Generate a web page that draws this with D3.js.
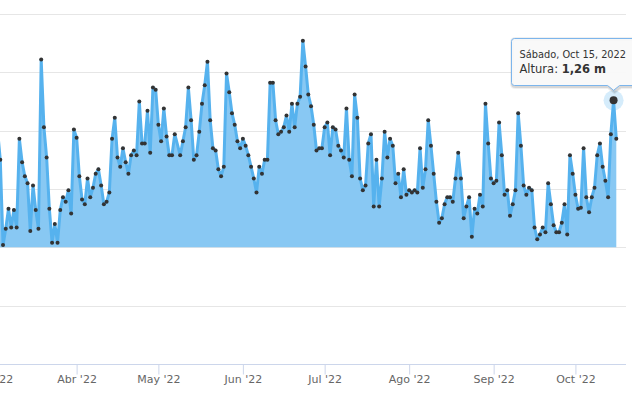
<!DOCTYPE html>
<html>
<head>
<meta charset="utf-8">
<script src="https://cdn.jsdelivr.net/npm/d3@7"></script>
<style>
  html, body { margin: 0; padding: 0; background: #fff; overflow: hidden; }
  svg { display: block; font-family: "DejaVu Sans", Verdana, sans-serif; }
</style>
</head>
<body>
<svg id="chart" width="632" height="395"></svg>
<script>
// ---------- data ----------
const seriesName = "Altura";
const startDate = "2022-03-03";           // first daily reading (left edge, partly off-screen)
// daily wave height (m); null = day without a reading
const heights = [
  1.00,
  0.75, 0.02, 0.16, 0.33, 0.17, 0.32, 0.17, 0.93, 0.73, 0.61, 0.55, 0.14, 0.53, 0.32, 0.16,
  1.61, 1.03, 0.77, 0.33, 0.04, 0.20, 0.04, 0.32, 0.43, 0.39, 0.49, 0.29, 1.01, 0.94, 0.61,
  0.41, 0.37, 0.59, 0.43, 0.51, 0.63, 0.67, 0.53, 0.37,
  0.39, 0.47, 0.93, 1.11, 0.77, 0.69, 0.85, 0.73, 0.63, 0.79, 0.83, 0.79, 1.25, 0.89, 0.89,
  1.17, 0.81, 1.37, 1.35, 1.05, 0.91, 1.19, 0.95, 0.79, 0.79, 0.97, null, 0.79, 0.91, 1.03,
  1.37, 1.09, 0.75, 0.79, 0.99, 1.23, 1.39, 1.59, 1.09,
  0.85, 0.83, 0.67, 0.61, 0.69, 1.49, 1.33, 1.15, 1.05, 0.91, 0.85, 0.93, 0.87, 0.79, 0.69,
  0.59, 0.47, 0.69, 0.63, 0.75, 0.75, 1.41, 1.41, 1.09, 0.97, 0.99, 1.03, 1.13, 0.99, 1.23,
  1.03, 1.23, 1.29, 1.77, 1.55, 1.31, 1.21, 1.05,
  0.83, 0.85, 0.85, 1.03, 1.07, 0.79, 1.03, 1.01, 0.87, 0.83, 0.77, 1.19, 0.75, 0.61, 1.31,
  1.11, 0.59, 0.49, 0.53, 0.89, 0.97, 0.35, 0.75, 0.35, 0.59, 0.99, 0.77, 0.93, 0.87, 0.55,
  0.63, 0.43, 0.67, 0.45, 0.49, 0.47, 0.49, 0.47,
  0.85, 0.51, 0.67, 1.09, 0.87, 0.63, 0.39, 0.21, 0.25, 0.37, 0.43, 0.43, 0.39, 0.59, 0.81,
  0.59, 0.25, 0.35, 0.43, 0.09, 0.33, 0.29, 0.45, 0.35, 1.23, 0.89, 0.59, 0.55, 0.57, 1.07,
  0.79, 0.45, 0.49, 0.27, 0.37, 0.49, 1.15, 0.87,
  0.53, 0.45, 0.51, 0.49, 0.17, 0.07, 0.11, 0.17, 0.13, 0.55, 0.37, 0.19, 0.13, 0.13, 0.21,
  0.37, 0.11, 0.79, 0.63, 0.45, 0.33, 0.34, 0.85, 0.43, 0.30, 0.43, 0.51, 0.79, 0.89, 0.69,
  0.57, 0.43, 0.97, 1.26, 0.93
];
const yTicks = [-1, -0.5, 0, 0.5, 1, 1.5, 2];
const monthNames = ["Ene", "Feb", "Mar", "Abr", "May", "Jun", "Jul", "Ago", "Sep", "Oct", "Nov", "Dic"];
const dayNames = ["Domingo", "Lunes", "Martes", "Miércoles", "Jueves", "Viernes", "Sábado"];
const monthTicks = ["2022-03-01", "2022-04-01", "2022-05-01", "2022-06-01", "2022-07-01", "2022-08-01", "2022-09-01", "2022-10-01"];
const hoverDate = "2022-10-15";

// ---------- build ----------
const parse = d3.utcParse("%Y-%m-%d");
const t0 = parse(startDate);
const points = heights
  .map((v, i) => ({ date: d3.utcDay.offset(t0, i), v }))
  .filter(d => d.v != null);

const svg = d3.select("#chart");
const plotRight = 626;

const x = d3.scaleUtc()
  .domain([parse("2022-03-04"), parse("2022-10-16")])
  .range([0.3, 616.3]);
const y = d3.scaleLinear().domain([-1, 2]).range([364, 14]);

const lineColor = "#56b2ee";
const fillColor = "#88c8f3";

// grid lines
svg.append("g")
  .selectAll("line")
  .data(yTicks.filter(t => t !== -1))
  .join("line")
  .attr("x1", -20).attr("x2", plotRight)
  .attr("y1", d => Math.round(y(d)) + 0.5).attr("y2", d => Math.round(y(d)) + 0.5)
  .attr("stroke", "#e6e6e6").attr("stroke-width", 1);

// x axis
const xAxis = d3.axisBottom(x)
  .tickValues(monthTicks.map(parse))
  .tickSize(10)
  .tickSizeOuter(0)
  .tickFormat(d => monthNames[d.getUTCMonth()] + " '" + d3.utcFormat("%y")(d));

const gx = svg.append("g")
  .attr("transform", `translate(0,${Math.round(y(-1)) + 0.5})`)
  .call(xAxis);
gx.select(".domain").attr("d", `M-20,0H${plotRight}`).attr("stroke", "#ccd6eb");
gx.selectAll(".tick line").attr("stroke", "#ccd6eb");
gx.selectAll(".tick text")
  .attr("y", 18)
  .attr("dy", 0)
  .attr("fill", "#666666")
  .style("font-size", "11px")
  .style("font-family", "'DejaVu Sans', Verdana, sans-serif");

// area + line
const area = d3.area()
  .x(d => x(d.date)).y0(y(0)).y1(d => y(d.v));
const line = d3.line()
  .x(d => x(d.date)).y(d => y(d.v));

svg.append("path").datum(points)
  .attr("d", area).attr("fill", fillColor);
svg.append("path").datum(points)
  .attr("d", line).attr("fill", "none")
  .attr("stroke", lineColor).attr("stroke-width", 3)
  .attr("stroke-linejoin", "round").attr("stroke-linecap", "round");

// markers
svg.append("g").selectAll("circle")
  .data(points)
  .join("circle")
  .attr("cx", d => x(d.date)).attr("cy", d => y(d.v))
  .attr("r", 2).attr("fill", "#333333");

// hovered point
const hp = points.find(d => +d.date === +parse(hoverDate));
const hx = x(hp.date), hy = y(hp.v);
svg.append("circle").attr("cx", hx).attr("cy", hy).attr("r", 10)
  .attr("fill", lineColor).attr("fill-opacity", 0.25);
svg.append("circle").attr("cx", hx).attr("cy", hy).attr("r", 4)
  .attr("fill", "#333333");

// tooltip
const bx = 511.5, by = 38.5, bw = 130, bh = 47;
const tipY = hy - 10;
const tip = svg.append("g");
const tipPath = `M${bx + 3},${by} H${bx + bw} V${by + bh} H${hx + 6} L${hx},${tipY} L${hx - 6},${by + bh} H${bx + 3} Q${bx},${by + bh} ${bx},${by + bh - 3} V${by + 3} Q${bx},${by} ${bx + 3},${by} Z`;
tip.append("path").attr("d", tipPath)
  .attr("fill", "none").attr("stroke", "#000").attr("stroke-opacity", 0.06)
  .attr("stroke-width", 5).attr("transform", "translate(1,1)");
tip.append("path").attr("d", tipPath)
  .attr("fill", "none").attr("stroke", "#000").attr("stroke-opacity", 0.1)
  .attr("stroke-width", 3).attr("transform", "translate(1,1)");
tip.append("path").attr("d", tipPath)
  .attr("fill", "rgba(249,249,249,0.95)").attr("stroke", "#7cb5ec").attr("stroke-width", 1);

const fmtNum = d3.format(".2f");
const header = dayNames[hp.date.getUTCDay()] + ", " + d3.utcFormat("%b %d, %Y")(hp.date);
tip.append("text")
  .attr("x", 519.5).attr("y", 57.5)
  .attr("fill", "#333333").style("font-size", "9.8px")
  .text(header);
const t2 = tip.append("text")
  .attr("x", 519.5).attr("y", 72.5)
  .attr("fill", "#333333").style("font-size", "11.5px");
t2.append("tspan").text(seriesName + ": ");
t2.append("tspan").attr("font-weight", "bold")
  .text(fmtNum(hp.v).replace(".", ",") + " m");
</script>
</body>
</html>
